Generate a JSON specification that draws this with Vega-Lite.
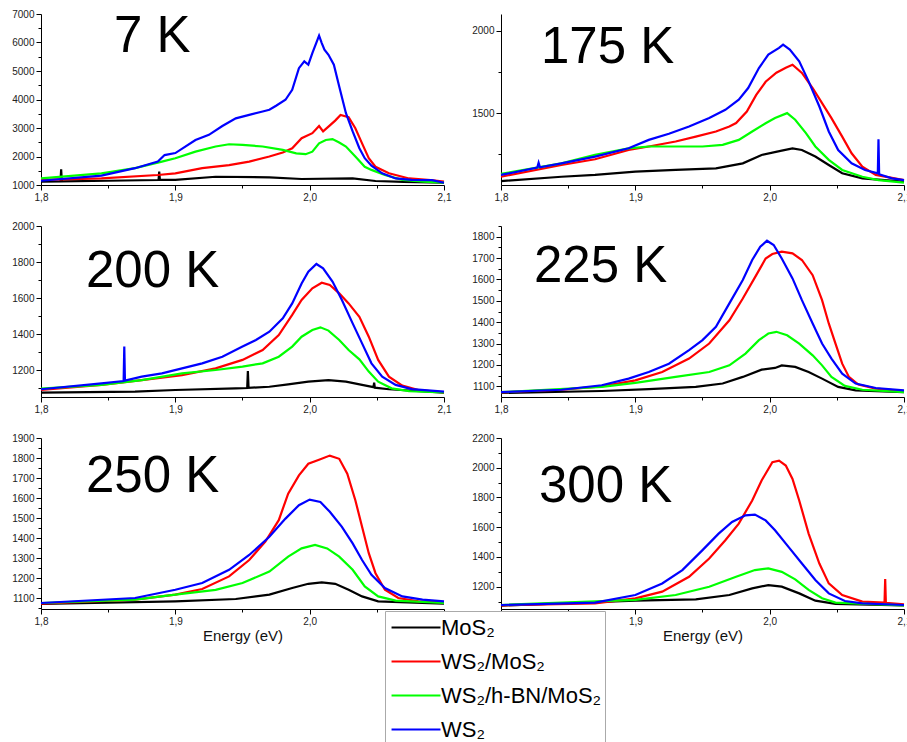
{
"$schema":"https://vega.github.io/schema/vega-lite/v6.json",
"padding":{"left":11,"top":9,"right":5,"bottom":5},
"background":"white",
"bounds":"flush",
"columns":2,
"spacing":{"row":41,"column":57},
"config":{
 "view":{"stroke":null},
 "axis":{"grid":false,"domainColor":"#000","tickColor":"#000","labelFont":"Liberation Sans","labelFontSize":10,"labelColor":"#222","labelPadding":2,"labelOverlap":false,"labelFlush":false,"titleFont":"Liberation Sans","titleFontSize":15,"titleFontWeight":"normal","titleColor":"#111","titlePadding":2},
 "title":{"font":"Liberation Sans","fontSize":51,"fontWeight":"normal","color":"#000","anchor":"start","frame":"group","baseline":"alphabetic"},
 "line":{"strokeWidth":2.2}
},
"datasets":{
"k7":[
{"s":"MoS₂","x":1.8,"y":1120},{"s":"MoS₂","x":1.8145,"y":1125},{"s":"MoS₂","x":1.815,"y":1550},{"s":"MoS₂","x":1.8155,"y":1130},{"s":"MoS₂","x":1.85,"y":1150},{"s":"MoS₂","x":1.8875,"y":1175},{"s":"MoS₂","x":1.888,"y":1470},{"s":"MoS₂","x":1.8885,"y":1178},{"s":"MoS₂","x":1.9,"y":1180},{"s":"MoS₂","x":1.93,"y":1290},{"s":"MoS₂","x":1.97,"y":1270},{"s":"MoS₂","x":1.994,"y":1210},{"s":"MoS₂","x":2.032,"y":1230},{"s":"MoS₂","x":2.049,"y":1140},{"s":"MoS₂","x":2.07,"y":1110},{"s":"MoS₂","x":2.1,"y":1080},
{"s":"WS₂/MoS₂","x":1.8,"y":1180},{"s":"WS₂/MoS₂","x":1.845,"y":1230},{"s":"WS₂/MoS₂","x":1.887,"y":1350},{"s":"WS₂/MoS₂","x":1.9,"y":1410},{"s":"WS₂/MoS₂","x":1.92,"y":1590},{"s":"WS₂/MoS₂","x":1.94,"y":1700},{"s":"WS₂/MoS₂","x":1.955,"y":1820},{"s":"WS₂/MoS₂","x":1.97,"y":2000},{"s":"WS₂/MoS₂","x":1.98,"y":2140},{"s":"WS₂/MoS₂","x":1.987,"y":2290},{"s":"WS₂/MoS₂","x":1.994,"y":2640},{"s":"WS₂/MoS₂","x":2.002,"y":2820},{"s":"WS₂/MoS₂","x":2.007,"y":3070},{"s":"WS₂/MoS₂","x":2.01,"y":2880},{"s":"WS₂/MoS₂","x":2.014,"y":3050},{"s":"WS₂/MoS₂","x":2.019,"y":3260},{"s":"WS₂/MoS₂","x":2.023,"y":3460},{"s":"WS₂/MoS₂","x":2.029,"y":3380},{"s":"WS₂/MoS₂","x":2.034,"y":2990},{"s":"WS₂/MoS₂","x":2.039,"y":2460},{"s":"WS₂/MoS₂","x":2.044,"y":1940},{"s":"WS₂/MoS₂","x":2.049,"y":1640},{"s":"WS₂/MoS₂","x":2.059,"y":1410},{"s":"WS₂/MoS₂","x":2.074,"y":1230},{"s":"WS₂/MoS₂","x":2.09,"y":1170},{"s":"WS₂/MoS₂","x":2.1,"y":1120},
{"s":"WS₂/h-BN/MoS₂","x":1.8,"y":1230},{"s":"WS₂/h-BN/MoS₂","x":1.845,"y":1410},{"s":"WS₂/h-BN/MoS₂","x":1.87,"y":1590},{"s":"WS₂/h-BN/MoS₂","x":1.89,"y":1820},{"s":"WS₂/h-BN/MoS₂","x":1.9,"y":1940},{"s":"WS₂/h-BN/MoS₂","x":1.915,"y":2170},{"s":"WS₂/h-BN/MoS₂","x":1.93,"y":2350},{"s":"WS₂/h-BN/MoS₂","x":1.94,"y":2430},{"s":"WS₂/h-BN/MoS₂","x":1.95,"y":2410},{"s":"WS₂/h-BN/MoS₂","x":1.965,"y":2350},{"s":"WS₂/h-BN/MoS₂","x":1.98,"y":2230},{"s":"WS₂/h-BN/MoS₂","x":1.99,"y":2110},{"s":"WS₂/h-BN/MoS₂","x":1.997,"y":2080},{"s":"WS₂/h-BN/MoS₂","x":2.002,"y":2170},{"s":"WS₂/h-BN/MoS₂","x":2.007,"y":2460},{"s":"WS₂/h-BN/MoS₂","x":2.012,"y":2580},{"s":"WS₂/h-BN/MoS₂","x":2.017,"y":2610},{"s":"WS₂/h-BN/MoS₂","x":2.022,"y":2490},{"s":"WS₂/h-BN/MoS₂","x":2.027,"y":2350},{"s":"WS₂/h-BN/MoS₂","x":2.034,"y":2000},{"s":"WS₂/h-BN/MoS₂","x":2.041,"y":1640},{"s":"WS₂/h-BN/MoS₂","x":2.046,"y":1530},{"s":"WS₂/h-BN/MoS₂","x":2.056,"y":1350},{"s":"WS₂/h-BN/MoS₂","x":2.069,"y":1180},{"s":"WS₂/h-BN/MoS₂","x":2.085,"y":1120},{"s":"WS₂/h-BN/MoS₂","x":2.1,"y":1080},
{"s":"WS₂","x":1.8,"y":1150},{"s":"WS₂","x":1.845,"y":1330},{"s":"WS₂","x":1.87,"y":1590},{"s":"WS₂","x":1.887,"y":1820},{"s":"WS₂","x":1.892,"y":2050},{"s":"WS₂","x":1.9,"y":2120},{"s":"WS₂","x":1.915,"y":2580},{"s":"WS₂","x":1.925,"y":2760},{"s":"WS₂","x":1.935,"y":3070},{"s":"WS₂","x":1.945,"y":3340},{"s":"WS₂","x":1.955,"y":3460},{"s":"WS₂","x":1.965,"y":3580},{"s":"WS₂","x":1.97,"y":3640},{"s":"WS₂","x":1.975,"y":3780},{"s":"WS₂","x":1.982,"y":3990},{"s":"WS₂","x":1.987,"y":4340},{"s":"WS₂","x":1.992,"y":5100},{"s":"WS₂","x":1.996,"y":5340},{"s":"WS₂","x":1.999,"y":5220},{"s":"WS₂","x":2.002,"y":5630},{"s":"WS₂","x":2.007,"y":6240},{"s":"WS₂","x":2.009,"y":5980},{"s":"WS₂","x":2.011,"y":5750},{"s":"WS₂","x":2.014,"y":5570},{"s":"WS₂","x":2.018,"y":5220},{"s":"WS₂","x":2.022,"y":4460},{"s":"WS₂","x":2.027,"y":3520},{"s":"WS₂","x":2.032,"y":2880},{"s":"WS₂","x":2.037,"y":2290},{"s":"WS₂","x":2.041,"y":1940},{"s":"WS₂","x":2.046,"y":1680},{"s":"WS₂","x":2.054,"y":1410},{"s":"WS₂","x":2.064,"y":1230},{"s":"WS₂","x":2.076,"y":1180},{"s":"WS₂","x":2.091,"y":1170},{"s":"WS₂","x":2.1,"y":1080}
],
"k175":[
{"s":"MoS₂","x":1.8,"y":1089},{"s":"MoS₂","x":1.845,"y":1115},{"s":"MoS₂","x":1.87,"y":1126},{"s":"MoS₂","x":1.9,"y":1146},{"s":"MoS₂","x":1.93,"y":1156},{"s":"MoS₂","x":1.96,"y":1166},{"s":"MoS₂","x":1.98,"y":1196},{"s":"MoS₂","x":1.994,"y":1247},{"s":"MoS₂","x":2.009,"y":1273},{"s":"MoS₂","x":2.017,"y":1287},{"s":"MoS₂","x":2.024,"y":1277},{"s":"MoS₂","x":2.034,"y":1237},{"s":"MoS₂","x":2.044,"y":1186},{"s":"MoS₂","x":2.054,"y":1136},{"s":"MoS₂","x":2.069,"y":1105},{"s":"MoS₂","x":2.1,"y":1085},
{"s":"WS₂/MoS₂","x":1.8,"y":1115},{"s":"WS₂/MoS₂","x":1.845,"y":1186},{"s":"WS₂/MoS₂","x":1.87,"y":1221},{"s":"WS₂/MoS₂","x":1.895,"y":1277},{"s":"WS₂/MoS₂","x":1.91,"y":1298},{"s":"WS₂/MoS₂","x":1.93,"y":1328},{"s":"WS₂/MoS₂","x":1.945,"y":1358},{"s":"WS₂/MoS₂","x":1.96,"y":1389},{"s":"WS₂/MoS₂","x":1.97,"y":1419},{"s":"WS₂/MoS₂","x":1.975,"y":1440},{"s":"WS₂/MoS₂","x":1.983,"y":1510},{"s":"WS₂/MoS₂","x":1.99,"y":1610},{"s":"WS₂/MoS₂","x":1.997,"y":1690},{"s":"WS₂/MoS₂","x":2.005,"y":1745},{"s":"WS₂/MoS₂","x":2.012,"y":1775},{"s":"WS₂/MoS₂","x":2.017,"y":1793},{"s":"WS₂/MoS₂","x":2.024,"y":1743},{"s":"WS₂/MoS₂","x":2.032,"y":1652},{"s":"WS₂/MoS₂","x":2.039,"y":1561},{"s":"WS₂/MoS₂","x":2.046,"y":1470},{"s":"WS₂/MoS₂","x":2.054,"y":1358},{"s":"WS₂/MoS₂","x":2.061,"y":1257},{"s":"WS₂/MoS₂","x":2.069,"y":1176},{"s":"WS₂/MoS₂","x":2.079,"y":1126},{"s":"WS₂/MoS₂","x":2.1,"y":1095},
{"s":"WS₂/h-BN/MoS₂","x":1.8,"y":1132},{"s":"WS₂/h-BN/MoS₂","x":1.845,"y":1196},{"s":"WS₂/h-BN/MoS₂","x":1.87,"y":1247},{"s":"WS₂/h-BN/MoS₂","x":1.895,"y":1287},{"s":"WS₂/h-BN/MoS₂","x":1.91,"y":1298},{"s":"WS₂/h-BN/MoS₂","x":1.93,"y":1298},{"s":"WS₂/h-BN/MoS₂","x":1.95,"y":1298},{"s":"WS₂/h-BN/MoS₂","x":1.965,"y":1308},{"s":"WS₂/h-BN/MoS₂","x":1.977,"y":1338},{"s":"WS₂/h-BN/MoS₂","x":1.987,"y":1389},{"s":"WS₂/h-BN/MoS₂","x":1.997,"y":1439},{"s":"WS₂/h-BN/MoS₂","x":2.004,"y":1470},{"s":"WS₂/h-BN/MoS₂","x":2.013,"y":1500},{"s":"WS₂/h-BN/MoS₂","x":2.019,"y":1460},{"s":"WS₂/h-BN/MoS₂","x":2.027,"y":1379},{"s":"WS₂/h-BN/MoS₂","x":2.034,"y":1298},{"s":"WS₂/h-BN/MoS₂","x":2.044,"y":1217},{"s":"WS₂/h-BN/MoS₂","x":2.054,"y":1156},{"s":"WS₂/h-BN/MoS₂","x":2.069,"y":1115},{"s":"WS₂/h-BN/MoS₂","x":2.081,"y":1095},{"s":"WS₂/h-BN/MoS₂","x":2.1,"y":1079},
{"s":"WS₂","x":1.8,"y":1126},{"s":"WS₂","x":1.827,"y":1170},{"s":"WS₂","x":1.828,"y":1200},{"s":"WS₂","x":1.829,"y":1172},{"s":"WS₂","x":1.845,"y":1196},{"s":"WS₂","x":1.87,"y":1237},{"s":"WS₂","x":1.895,"y":1287},{"s":"WS₂","x":1.91,"y":1338},{"s":"WS₂","x":1.925,"y":1375},{"s":"WS₂","x":1.94,"y":1419},{"s":"WS₂","x":1.955,"y":1470},{"s":"WS₂","x":1.967,"y":1520},{"s":"WS₂","x":1.977,"y":1581},{"s":"WS₂","x":1.984,"y":1652},{"s":"WS₂","x":1.992,"y":1773},{"s":"WS₂","x":1.999,"y":1854},{"s":"WS₂","x":2.007,"y":1895},{"s":"WS₂","x":2.01,"y":1915},{"s":"WS₂","x":2.015,"y":1885},{"s":"WS₂","x":2.022,"y":1814},{"s":"WS₂","x":2.029,"y":1692},{"s":"WS₂","x":2.037,"y":1540},{"s":"WS₂","x":2.044,"y":1389},{"s":"WS₂","x":2.051,"y":1277},{"s":"WS₂","x":2.061,"y":1196},{"s":"WS₂","x":2.071,"y":1156},{"s":"WS₂","x":2.0805,"y":1136},{"s":"WS₂","x":2.081,"y":1342},{"s":"WS₂","x":2.0815,"y":1130},{"s":"WS₂","x":2.091,"y":1105},{"s":"WS₂","x":2.1,"y":1095}
],
"k200":[
{"s":"MoS₂","x":1.8,"y":1074},{"s":"MoS₂","x":1.87,"y":1080},{"s":"MoS₂","x":1.9,"y":1089},{"s":"MoS₂","x":1.945,"y":1098},{"s":"MoS₂","x":1.9535,"y":1100},{"s":"MoS₂","x":1.954,"y":1194},{"s":"MoS₂","x":1.9545,"y":1101},{"s":"MoS₂","x":1.97,"y":1107},{"s":"MoS₂","x":1.984,"y":1120},{"s":"MoS₂","x":1.999,"y":1135},{"s":"MoS₂","x":2.014,"y":1144},{"s":"MoS₂","x":2.027,"y":1135},{"s":"MoS₂","x":2.039,"y":1117},{"s":"MoS₂","x":2.0475,"y":1105},{"s":"MoS₂","x":2.048,"y":1130},{"s":"MoS₂","x":2.0485,"y":1102},{"s":"MoS₂","x":2.059,"y":1093},{"s":"MoS₂","x":2.1,"y":1074},
{"s":"WS₂/MoS₂","x":1.8,"y":1089},{"s":"WS₂/MoS₂","x":1.845,"y":1117},{"s":"WS₂/MoS₂","x":1.875,"y":1144},{"s":"WS₂/MoS₂","x":1.905,"y":1172},{"s":"WS₂/MoS₂","x":1.93,"y":1209},{"s":"WS₂/MoS₂","x":1.95,"y":1256},{"s":"WS₂/MoS₂","x":1.965,"y":1311},{"s":"WS₂/MoS₂","x":1.977,"y":1394},{"s":"WS₂/MoS₂","x":1.987,"y":1506},{"s":"WS₂/MoS₂","x":1.994,"y":1589},{"s":"WS₂/MoS₂","x":2.002,"y":1654},{"s":"WS₂/MoS₂","x":2.009,"y":1685},{"s":"WS₂/MoS₂","x":2.015,"y":1672},{"s":"WS₂/MoS₂","x":2.022,"y":1626},{"s":"WS₂/MoS₂","x":2.029,"y":1570},{"s":"WS₂/MoS₂","x":2.037,"y":1496},{"s":"WS₂/MoS₂","x":2.044,"y":1385},{"s":"WS₂/MoS₂","x":2.051,"y":1256},{"s":"WS₂/MoS₂","x":2.059,"y":1163},{"s":"WS₂/MoS₂","x":2.069,"y":1113},{"s":"WS₂/MoS₂","x":2.081,"y":1089},{"s":"WS₂/MoS₂","x":2.1,"y":1076},
{"s":"WS₂/h-BN/MoS₂","x":1.8,"y":1096},{"s":"WS₂/h-BN/MoS₂","x":1.845,"y":1117},{"s":"WS₂/h-BN/MoS₂","x":1.875,"y":1144},{"s":"WS₂/h-BN/MoS₂","x":1.905,"y":1181},{"s":"WS₂/h-BN/MoS₂","x":1.93,"y":1200},{"s":"WS₂/h-BN/MoS₂","x":1.95,"y":1219},{"s":"WS₂/h-BN/MoS₂","x":1.965,"y":1237},{"s":"WS₂/h-BN/MoS₂","x":1.977,"y":1274},{"s":"WS₂/h-BN/MoS₂","x":1.987,"y":1330},{"s":"WS₂/h-BN/MoS₂","x":1.994,"y":1385},{"s":"WS₂/h-BN/MoS₂","x":2.002,"y":1422},{"s":"WS₂/h-BN/MoS₂","x":2.008,"y":1437},{"s":"WS₂/h-BN/MoS₂","x":2.014,"y":1419},{"s":"WS₂/h-BN/MoS₂","x":2.022,"y":1367},{"s":"WS₂/h-BN/MoS₂","x":2.029,"y":1311},{"s":"WS₂/h-BN/MoS₂","x":2.037,"y":1259},{"s":"WS₂/h-BN/MoS₂","x":2.044,"y":1191},{"s":"WS₂/h-BN/MoS₂","x":2.051,"y":1135},{"s":"WS₂/h-BN/MoS₂","x":2.061,"y":1098},{"s":"WS₂/h-BN/MoS₂","x":2.074,"y":1083},{"s":"WS₂/h-BN/MoS₂","x":2.1,"y":1076},
{"s":"WS₂","x":1.8,"y":1093},{"s":"WS₂","x":1.845,"y":1126},{"s":"WS₂","x":1.8615,"y":1139},{"s":"WS₂","x":1.862,"y":1330},{"s":"WS₂","x":1.8625,"y":1141},{"s":"WS₂","x":1.875,"y":1163},{"s":"WS₂","x":1.89,"y":1181},{"s":"WS₂","x":1.905,"y":1209},{"s":"WS₂","x":1.92,"y":1237},{"s":"WS₂","x":1.935,"y":1274},{"s":"WS₂","x":1.95,"y":1330},{"s":"WS₂","x":1.96,"y":1367},{"s":"WS₂","x":1.97,"y":1413},{"s":"WS₂","x":1.98,"y":1487},{"s":"WS₂","x":1.987,"y":1570},{"s":"WS₂","x":1.994,"y":1681},{"s":"WS₂","x":1.999,"y":1746},{"s":"WS₂","x":2.005,"y":1789},{"s":"WS₂","x":2.01,"y":1765},{"s":"WS₂","x":2.017,"y":1691},{"s":"WS₂","x":2.024,"y":1589},{"s":"WS₂","x":2.032,"y":1459},{"s":"WS₂","x":2.039,"y":1348},{"s":"WS₂","x":2.046,"y":1237},{"s":"WS₂","x":2.054,"y":1163},{"s":"WS₂","x":2.064,"y":1117},{"s":"WS₂","x":2.076,"y":1094},{"s":"WS₂","x":2.1,"y":1080}
],
"k225":[
{"s":"MoS₂","x":1.8,"y":1069},{"s":"MoS₂","x":1.875,"y":1078},{"s":"MoS₂","x":1.91,"y":1087},{"s":"MoS₂","x":1.945,"y":1097},{"s":"MoS₂","x":1.965,"y":1113},{"s":"MoS₂","x":1.98,"y":1144},{"s":"MoS₂","x":1.994,"y":1178},{"s":"MoS₂","x":2.004,"y":1186},{"s":"MoS₂","x":2.009,"y":1198},{"s":"MoS₂","x":2.019,"y":1191},{"s":"MoS₂","x":2.029,"y":1167},{"s":"MoS₂","x":2.039,"y":1136},{"s":"MoS₂","x":2.051,"y":1097},{"s":"MoS₂","x":2.064,"y":1081},{"s":"MoS₂","x":2.1,"y":1073},
{"s":"WS₂/MoS₂","x":1.8,"y":1072},{"s":"WS₂/MoS₂","x":1.845,"y":1084},{"s":"WS₂/MoS₂","x":1.875,"y":1100},{"s":"WS₂/MoS₂","x":1.9,"y":1128},{"s":"WS₂/MoS₂","x":1.92,"y":1167},{"s":"WS₂/MoS₂","x":1.94,"y":1230},{"s":"WS₂/MoS₂","x":1.955,"y":1300},{"s":"WS₂/MoS₂","x":1.97,"y":1409},{"s":"WS₂/MoS₂","x":1.98,"y":1511},{"s":"WS₂/MoS₂","x":1.99,"y":1620},{"s":"WS₂/MoS₂","x":1.997,"y":1698},{"s":"WS₂/MoS₂","x":2.002,"y":1719},{"s":"WS₂/MoS₂","x":2.009,"y":1730},{"s":"WS₂/MoS₂","x":2.017,"y":1722},{"s":"WS₂/MoS₂","x":2.024,"y":1691},{"s":"WS₂/MoS₂","x":2.032,"y":1620},{"s":"WS₂/MoS₂","x":2.039,"y":1503},{"s":"WS₂/MoS₂","x":2.044,"y":1394},{"s":"WS₂/MoS₂","x":2.049,"y":1300},{"s":"WS₂/MoS₂","x":2.054,"y":1206},{"s":"WS₂/MoS₂","x":2.059,"y":1144},{"s":"WS₂/MoS₂","x":2.066,"y":1108},{"s":"WS₂/MoS₂","x":2.079,"y":1089},{"s":"WS₂/MoS₂","x":2.1,"y":1078},
{"s":"WS₂/h-BN/MoS₂","x":1.8,"y":1073},{"s":"WS₂/h-BN/MoS₂","x":1.875,"y":1097},{"s":"WS₂/h-BN/MoS₂","x":1.9,"y":1116},{"s":"WS₂/h-BN/MoS₂","x":1.93,"y":1144},{"s":"WS₂/h-BN/MoS₂","x":1.955,"y":1167},{"s":"WS₂/h-BN/MoS₂","x":1.97,"y":1198},{"s":"WS₂/h-BN/MoS₂","x":1.982,"y":1253},{"s":"WS₂/h-BN/MoS₂","x":1.992,"y":1316},{"s":"WS₂/h-BN/MoS₂","x":1.999,"y":1347},{"s":"WS₂/h-BN/MoS₂","x":2.005,"y":1355},{"s":"WS₂/h-BN/MoS₂","x":2.013,"y":1339},{"s":"WS₂/h-BN/MoS₂","x":2.022,"y":1300},{"s":"WS₂/h-BN/MoS₂","x":2.032,"y":1245},{"s":"WS₂/h-BN/MoS₂","x":2.039,"y":1198},{"s":"WS₂/h-BN/MoS₂","x":2.046,"y":1144},{"s":"WS₂/h-BN/MoS₂","x":2.056,"y":1102},{"s":"WS₂/h-BN/MoS₂","x":2.069,"y":1084},{"s":"WS₂/h-BN/MoS₂","x":2.1,"y":1073},
{"s":"WS₂","x":1.8,"y":1073},{"s":"WS₂","x":1.845,"y":1084},{"s":"WS₂","x":1.875,"y":1105},{"s":"WS₂","x":1.895,"y":1136},{"s":"WS₂","x":1.91,"y":1167},{"s":"WS₂","x":1.925,"y":1206},{"s":"WS₂","x":1.94,"y":1269},{"s":"WS₂","x":1.95,"y":1316},{"s":"WS₂","x":1.96,"y":1378},{"s":"WS₂","x":1.97,"y":1488},{"s":"WS₂","x":1.98,"y":1597},{"s":"WS₂","x":1.987,"y":1691},{"s":"WS₂","x":1.993,"y":1753},{"s":"WS₂","x":1.998,"y":1781},{"s":"WS₂","x":2.003,"y":1761},{"s":"WS₂","x":2.009,"y":1698},{"s":"WS₂","x":2.017,"y":1605},{"s":"WS₂","x":2.024,"y":1503},{"s":"WS₂","x":2.032,"y":1394},{"s":"WS₂","x":2.039,"y":1300},{"s":"WS₂","x":2.046,"y":1230},{"s":"WS₂","x":2.054,"y":1159},{"s":"WS₂","x":2.064,"y":1113},{"s":"WS₂","x":2.079,"y":1092},{"s":"WS₂","x":2.1,"y":1081}
],
"k250":[
{"s":"MoS₂","x":1.8,"y":1070},{"s":"MoS₂","x":1.9,"y":1083},{"s":"MoS₂","x":1.945,"y":1095},{"s":"MoS₂","x":1.97,"y":1117},{"s":"MoS₂","x":1.987,"y":1150},{"s":"MoS₂","x":1.999,"y":1171},{"s":"MoS₂","x":2.009,"y":1178},{"s":"MoS₂","x":2.019,"y":1171},{"s":"MoS₂","x":2.029,"y":1141},{"s":"MoS₂","x":2.039,"y":1108},{"s":"MoS₂","x":2.051,"y":1083},{"s":"MoS₂","x":2.1,"y":1072},
{"s":"WS₂/MoS₂","x":1.8,"y":1072},{"s":"WS₂/MoS₂","x":1.87,"y":1092},{"s":"WS₂/MoS₂","x":1.9,"y":1117},{"s":"WS₂/MoS₂","x":1.92,"y":1145},{"s":"WS₂/MoS₂","x":1.94,"y":1208},{"s":"WS₂/MoS₂","x":1.955,"y":1290},{"s":"WS₂/MoS₂","x":1.967,"y":1382},{"s":"WS₂/MoS₂","x":1.977,"y":1489},{"s":"WS₂/MoS₂","x":1.984,"y":1622},{"s":"WS₂/MoS₂","x":1.992,"y":1713},{"s":"WS₂/MoS₂","x":1.999,"y":1771},{"s":"WS₂/MoS₂","x":2.007,"y":1791},{"s":"WS₂/MoS₂","x":2.015,"y":1812},{"s":"WS₂/MoS₂","x":2.022,"y":1796},{"s":"WS₂/MoS₂","x":2.028,"y":1721},{"s":"WS₂/MoS₂","x":2.034,"y":1589},{"s":"WS₂/MoS₂","x":2.039,"y":1456},{"s":"WS₂/MoS₂","x":2.044,"y":1324},{"s":"WS₂/MoS₂","x":2.049,"y":1224},{"s":"WS₂/MoS₂","x":2.056,"y":1141},{"s":"WS₂/MoS₂","x":2.066,"y":1100},{"s":"WS₂/MoS₂","x":2.081,"y":1083},{"s":"WS₂/MoS₂","x":2.1,"y":1078},
{"s":"WS₂/h-BN/MoS₂","x":1.8,"y":1075},{"s":"WS₂/h-BN/MoS₂","x":1.87,"y":1092},{"s":"WS₂/h-BN/MoS₂","x":1.9,"y":1117},{"s":"WS₂/h-BN/MoS₂","x":1.93,"y":1141},{"s":"WS₂/h-BN/MoS₂","x":1.95,"y":1175},{"s":"WS₂/h-BN/MoS₂","x":1.97,"y":1232},{"s":"WS₂/h-BN/MoS₂","x":1.984,"y":1307},{"s":"WS₂/h-BN/MoS₂","x":1.994,"y":1348},{"s":"WS₂/h-BN/MoS₂","x":2.004,"y":1365},{"s":"WS₂/h-BN/MoS₂","x":2.013,"y":1348},{"s":"WS₂/h-BN/MoS₂","x":2.022,"y":1307},{"s":"WS₂/h-BN/MoS₂","x":2.032,"y":1241},{"s":"WS₂/h-BN/MoS₂","x":2.041,"y":1158},{"s":"WS₂/h-BN/MoS₂","x":2.051,"y":1108},{"s":"WS₂/h-BN/MoS₂","x":2.064,"y":1087},{"s":"WS₂/h-BN/MoS₂","x":2.1,"y":1075},
{"s":"WS₂","x":1.8,"y":1075},{"s":"WS₂","x":1.87,"y":1100},{"s":"WS₂","x":1.9,"y":1141},{"s":"WS₂","x":1.92,"y":1175},{"s":"WS₂","x":1.94,"y":1241},{"s":"WS₂","x":1.955,"y":1315},{"s":"WS₂","x":1.97,"y":1406},{"s":"WS₂","x":1.982,"y":1497},{"s":"WS₂","x":1.992,"y":1564},{"s":"WS₂","x":2.0,"y":1592},{"s":"WS₂","x":2.008,"y":1580},{"s":"WS₂","x":2.015,"y":1531},{"s":"WS₂","x":2.024,"y":1456},{"s":"WS₂","x":2.032,"y":1373},{"s":"WS₂","x":2.039,"y":1290},{"s":"WS₂","x":2.046,"y":1216},{"s":"WS₂","x":2.056,"y":1150},{"s":"WS₂","x":2.069,"y":1108},{"s":"WS₂","x":2.084,"y":1092},{"s":"WS₂","x":2.1,"y":1083}
],
"k300":[
{"s":"MoS₂","x":1.8,"y":1073},{"s":"MoS₂","x":1.9,"y":1106},{"s":"MoS₂","x":1.945,"y":1115},{"s":"MoS₂","x":1.97,"y":1144},{"s":"MoS₂","x":1.987,"y":1189},{"s":"MoS₂","x":1.999,"y":1211},{"s":"MoS₂","x":2.009,"y":1200},{"s":"MoS₂","x":2.022,"y":1155},{"s":"MoS₂","x":2.034,"y":1106},{"s":"MoS₂","x":2.049,"y":1084},{"s":"MoS₂","x":2.1,"y":1075},
{"s":"WS₂/MoS₂","x":1.8,"y":1075},{"s":"WS₂/MoS₂","x":1.87,"y":1088},{"s":"WS₂/MoS₂","x":1.9,"y":1122},{"s":"WS₂/MoS₂","x":1.92,"y":1167},{"s":"WS₂/MoS₂","x":1.94,"y":1267},{"s":"WS₂/MoS₂","x":1.955,"y":1390},{"s":"WS₂/MoS₂","x":1.967,"y":1512},{"s":"WS₂/MoS₂","x":1.977,"y":1624},{"s":"WS₂/MoS₂","x":1.987,"y":1780},{"s":"WS₂/MoS₂","x":1.994,"y":1914},{"s":"WS₂/MoS₂","x":2.002,"y":2037},{"s":"WS₂/MoS₂","x":2.007,"y":2048},{"s":"WS₂/MoS₂","x":2.012,"y":2015},{"s":"WS₂/MoS₂","x":2.017,"y":1925},{"s":"WS₂/MoS₂","x":2.022,"y":1780},{"s":"WS₂/MoS₂","x":2.029,"y":1557},{"s":"WS₂/MoS₂","x":2.037,"y":1356},{"s":"WS₂/MoS₂","x":2.044,"y":1222},{"s":"WS₂/MoS₂","x":2.054,"y":1144},{"s":"WS₂/MoS₂","x":2.069,"y":1100},{"s":"WS₂/MoS₂","x":2.0855,"y":1093},{"s":"WS₂/MoS₂","x":2.086,"y":1251},{"s":"WS₂/MoS₂","x":2.0865,"y":1092},{"s":"WS₂/MoS₂","x":2.1,"y":1082},
{"s":"WS₂/h-BN/MoS₂","x":1.8,"y":1077},{"s":"WS₂/h-BN/MoS₂","x":1.9,"y":1111},{"s":"WS₂/h-BN/MoS₂","x":1.93,"y":1144},{"s":"WS₂/h-BN/MoS₂","x":1.955,"y":1200},{"s":"WS₂/h-BN/MoS₂","x":1.975,"y":1267},{"s":"WS₂/h-BN/MoS₂","x":1.989,"y":1312},{"s":"WS₂/h-BN/MoS₂","x":1.999,"y":1323},{"s":"WS₂/h-BN/MoS₂","x":2.009,"y":1300},{"s":"WS₂/h-BN/MoS₂","x":2.019,"y":1249},{"s":"WS₂/h-BN/MoS₂","x":2.029,"y":1178},{"s":"WS₂/h-BN/MoS₂","x":2.039,"y":1122},{"s":"WS₂/h-BN/MoS₂","x":2.049,"y":1093},{"s":"WS₂/h-BN/MoS₂","x":2.1,"y":1075},
{"s":"WS₂","x":1.8,"y":1077},{"s":"WS₂","x":1.87,"y":1093},{"s":"WS₂","x":1.9,"y":1144},{"s":"WS₂","x":1.92,"y":1222},{"s":"WS₂","x":1.935,"y":1312},{"s":"WS₂","x":1.95,"y":1446},{"s":"WS₂","x":1.962,"y":1557},{"s":"WS₂","x":1.972,"y":1635},{"s":"WS₂","x":1.982,"y":1680},{"s":"WS₂","x":1.989,"y":1685},{"s":"WS₂","x":1.997,"y":1646},{"s":"WS₂","x":2.004,"y":1579},{"s":"WS₂","x":2.014,"y":1468},{"s":"WS₂","x":2.024,"y":1356},{"s":"WS₂","x":2.034,"y":1245},{"s":"WS₂","x":2.044,"y":1155},{"s":"WS₂","x":2.056,"y":1104},{"s":"WS₂","x":2.069,"y":1088},{"s":"WS₂","x":2.1,"y":1077}
]
},
"concat":[
{"data":{"name":"k7"},"width":403,"height":171,
 "title":{"text":"7 K","dx":73,"offset":-54},
 "mark":{"type":"line"},
 "encoding":{
  "x":{"field":"x","type":"quantitative","scale":{"domain":[1.8,2.1],"nice":false,"zero":false},"axis":{"title":null,"values":[1.8,1.85,1.9,1.95,2.0,2.05,2.1],"labelExpr":"abs(datum.value*10-round(datum.value*10))<0.001 ? replace(format(datum.value,'.1f'),'.',',') : ''","tickSize":{"condition":{"test":"abs(datum.value*10-round(datum.value*10))<0.001","value":5},"value":3}}},
  "y":{"field":"y","type":"quantitative","scale":{"domain":[1000,7000],"nice":false,"zero":false},"axis":{"title":null,"format":"d","values":[1000,1500,2000,2500,3000,3500,4000,4500,5000,5500,6000,6500,7000],"labelExpr":"datum.value % 1000 == 0 ? datum.label : ''","tickSize":{"condition":{"test":"datum.value % 1000 == 0","value":5},"value":3}}},
  "color":{"field":"s","type":"nominal","scale":{"domain":["MoS₂","WS₂/MoS₂","WS₂/h-BN/MoS₂","WS₂"],"range":["#000000","#ff0000","#00ff00","#0000ff"]},"legend":{"orient":"none","legendX":344,"legendY":597,"title":null,"symbolType":"M-0.83,0H3.25","symbolSize":576,"symbolStrokeWidth":2,"labelFontSize":22,"labelFont":"Liberation Sans","labelColor":"#000","labelOffset":26,"rowPadding":9,"padding":3,"fillColor":"#ffffff","strokeColor":"#aaaaaa","labelLimit":400}}
 }},
{"data":{"name":"k175"},"width":403,"height":171,
 "title":{"text":"175 K","dx":40,"offset":-60},
 "mark":{"type":"line"},
 "encoding":{
  "x":{"field":"x","type":"quantitative","scale":{"domain":[1.8,2.1],"nice":false,"zero":false},"axis":{"title":null,"values":[1.8,1.85,1.9,1.95,2.0,2.05,2.1],"labelExpr":"abs(datum.value*10-round(datum.value*10))<0.001 ? replace(format(datum.value,'.1f'),'.',',') : ''","tickSize":{"condition":{"test":"abs(datum.value*10-round(datum.value*10))<0.001","value":5},"value":3}}},
  "y":{"field":"y","type":"quantitative","scale":{"domain":[1065,2100],"nice":false,"zero":false},"axis":{"title":null,"format":"d","values":[1250,1500,1750,2000],"labelExpr":"datum.value % 500 == 0 ? datum.label : ''","tickSize":{"condition":{"test":"datum.value % 500 == 0","value":5},"value":3}}},
  "color":{"field":"s","type":"nominal","scale":{"domain":["MoS₂","WS₂/MoS₂","WS₂/h-BN/MoS₂","WS₂"],"range":["#000000","#ff0000","#00ff00","#0000ff"]},"legend":{"orient":"none","legendX":344,"legendY":597,"title":null,"symbolType":"M-0.83,0H3.25","symbolSize":576,"symbolStrokeWidth":2,"labelFontSize":22,"labelFont":"Liberation Sans","labelColor":"#000","labelOffset":26,"rowPadding":9,"padding":3,"fillColor":"#ffffff","strokeColor":"#aaaaaa","labelLimit":400}}
 }},
{"data":{"name":"k200"},"width":403,"height":171,
 "title":{"text":"200 K","dx":45,"offset":-77},
 "mark":{"type":"line"},
 "encoding":{
  "x":{"field":"x","type":"quantitative","scale":{"domain":[1.8,2.1],"nice":false,"zero":false},"axis":{"title":null,"values":[1.8,1.85,1.9,1.95,2.0,2.05,2.1],"labelExpr":"abs(datum.value*10-round(datum.value*10))<0.001 ? replace(format(datum.value,'.1f'),'.',',') : ''","tickSize":{"condition":{"test":"abs(datum.value*10-round(datum.value*10))<0.001","value":5},"value":3}}},
  "y":{"field":"y","type":"quantitative","scale":{"domain":[1050,2000],"nice":false,"zero":false},"axis":{"title":null,"format":"d","values":[1100,1200,1300,1400,1500,1600,1700,1800,1900,2000],"labelExpr":"datum.value % 200 == 0 ? datum.label : ''","tickSize":{"condition":{"test":"datum.value % 200 == 0","value":5},"value":3}}},
  "color":{"field":"s","type":"nominal","scale":{"domain":["MoS₂","WS₂/MoS₂","WS₂/h-BN/MoS₂","WS₂"],"range":["#000000","#ff0000","#00ff00","#0000ff"]},"legend":{"orient":"none","legendX":344,"legendY":597,"title":null,"symbolType":"M-0.83,0H3.25","symbolSize":576,"symbolStrokeWidth":2,"labelFontSize":22,"labelFont":"Liberation Sans","labelColor":"#000","labelOffset":26,"rowPadding":9,"padding":3,"fillColor":"#ffffff","strokeColor":"#aaaaaa","labelLimit":400}}
 }},
{"data":{"name":"k225"},"width":403,"height":171,
 "title":{"text":"225 K","dx":33,"offset":-72},
 "mark":{"type":"line"},
 "encoding":{
  "x":{"field":"x","type":"quantitative","scale":{"domain":[1.8,2.1],"nice":false,"zero":false},"axis":{"title":null,"values":[1.8,1.85,1.9,1.95,2.0,2.05,2.1],"labelExpr":"abs(datum.value*10-round(datum.value*10))<0.001 ? replace(format(datum.value,'.1f'),'.',',') : ''","tickSize":{"condition":{"test":"abs(datum.value*10-round(datum.value*10))<0.001","value":5},"value":3}}},
  "y":{"field":"y","type":"quantitative","scale":{"domain":[1050,1850],"nice":false,"zero":false},"axis":{"title":null,"format":"d","values":[1100,1150,1200,1250,1300,1350,1400,1450,1500,1550,1600,1650,1700,1750,1800,1850],"labelExpr":"datum.value % 100 == 0 ? datum.label : ''","tickSize":{"condition":{"test":"datum.value % 100 == 0","value":5},"value":3}}},
  "color":{"field":"s","type":"nominal","scale":{"domain":["MoS₂","WS₂/MoS₂","WS₂/h-BN/MoS₂","WS₂"],"range":["#000000","#ff0000","#00ff00","#0000ff"]},"legend":{"orient":"none","legendX":344,"legendY":597,"title":null,"symbolType":"M-0.83,0H3.25","symbolSize":576,"symbolStrokeWidth":2,"labelFontSize":22,"labelFont":"Liberation Sans","labelColor":"#000","labelOffset":26,"rowPadding":9,"padding":3,"fillColor":"#ffffff","strokeColor":"#aaaaaa","labelLimit":400}}
 }},
{"data":{"name":"k250"},"width":403,"height":171,
 "title":{"text":"250 K","dx":45,"offset":-70},
 "mark":{"type":"line"},
 "encoding":{
  "x":{"field":"x","type":"quantitative","scale":{"domain":[1.8,2.1],"nice":false,"zero":false},"axis":{"title":"Energy (eV)","values":[1.8,1.85,1.9,1.95,2.0,2.05,2.1],"labelExpr":"abs(datum.value*10-round(datum.value*10))<0.001 ? replace(format(datum.value,'.1f'),'.',',') : ''","tickSize":{"condition":{"test":"abs(datum.value*10-round(datum.value*10))<0.001","value":5},"value":3}}},
  "y":{"field":"y","type":"quantitative","scale":{"domain":[1045,1900],"nice":false,"zero":false},"axis":{"title":null,"format":"d","values":[1050,1100,1150,1200,1250,1300,1350,1400,1450,1500,1550,1600,1650,1700,1750,1800,1850,1900],"labelExpr":"datum.value % 100 == 0 ? datum.label : ''","tickSize":{"condition":{"test":"datum.value % 100 == 0","value":5},"value":3}}},
  "color":{"field":"s","type":"nominal","scale":{"domain":["MoS₂","WS₂/MoS₂","WS₂/h-BN/MoS₂","WS₂"],"range":["#000000","#ff0000","#00ff00","#0000ff"]},"legend":{"orient":"none","legendX":344,"legendY":597,"title":null,"symbolType":"M-0.83,0H3.25","symbolSize":576,"symbolStrokeWidth":2,"labelFontSize":22,"labelFont":"Liberation Sans","labelColor":"#000","labelOffset":26,"rowPadding":9,"padding":3,"fillColor":"#ffffff","strokeColor":"#aaaaaa","labelLimit":400}}
 }},
{"data":{"name":"k300"},"width":403,"height":171,
 "title":{"text":"300 K","dx":38,"offset":-80},
 "mark":{"type":"line"},
 "encoding":{
  "x":{"field":"x","type":"quantitative","scale":{"domain":[1.8,2.1],"nice":false,"zero":false},"axis":{"title":"Energy (eV)","values":[1.8,1.85,1.9,1.95,2.0,2.05,2.1],"labelExpr":"abs(datum.value*10-round(datum.value*10))<0.001 ? replace(format(datum.value,'.1f'),'.',',') : ''","tickSize":{"condition":{"test":"abs(datum.value*10-round(datum.value*10))<0.001","value":5},"value":3}}},
  "y":{"field":"y","type":"quantitative","scale":{"domain":[1050,2200],"nice":false,"zero":false},"axis":{"title":null,"format":"d","values":[1100,1200,1300,1400,1500,1600,1700,1800,1900,2000,2100,2200],"labelExpr":"datum.value % 200 == 0 ? datum.label : ''","tickSize":{"condition":{"test":"datum.value % 200 == 0","value":5},"value":3}}},
  "color":{"field":"s","type":"nominal","scale":{"domain":["MoS₂","WS₂/MoS₂","WS₂/h-BN/MoS₂","WS₂"],"range":["#000000","#ff0000","#00ff00","#0000ff"]},"legend":{"orient":"none","legendX":344,"legendY":597,"title":null,"symbolType":"M-0.83,0H3.25","symbolSize":576,"symbolStrokeWidth":2,"labelFontSize":22,"labelFont":"Liberation Sans","labelColor":"#000","labelOffset":26,"rowPadding":9,"padding":3,"fillColor":"#ffffff","strokeColor":"#aaaaaa","labelLimit":400}}
 }}
]
}
